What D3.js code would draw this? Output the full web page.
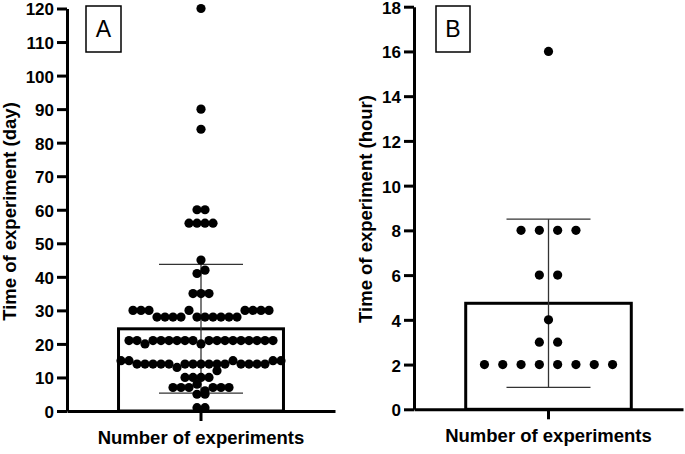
<!DOCTYPE html>
<html><head><meta charset="utf-8">
<script src="https://cdn.jsdelivr.net/npm/d3@7"></script>
<style>
body{margin:0;background:#fff}
svg{display:block}
</style>
</head><body>
<svg id="chart" width="685" height="454"></svg>
<script>
// ---------- data ----------
const category = ["Number of experiments"];
const ticksA = [0,10,20,30,40,50,60,70,80,90,100,110,120];
const ticksB = [0,2,4,6,8,10,12,14,16,18];
// Panel A values (days), grouped in the rows of the dot plot, top to bottom
const rowsA = [
  [120],
  [90],
  [84],
  [60,60],
  [56,56,56,56],
  [45],
  [41,42],
  [35,35,35],
  [30,30,30,28,28,28,28,30,28,28,28,28,28,28,30,30,30,30],
  [21,21,20,21,21,21,21,21,21,20,21,21,21,21,21,21,21,21,21],
  [15,15,14,14,14,14,14,13,14,14,14,14,14,14,15,14,14,14,14,15,15],
  [10,10,10,10,12],
  [7,7,7,8,6,7,7,7],
  [5,5],
  [1,1]
];
// Panel B values (hours)
const rowsB = [
  [16],
  [8,8,8,8],
  [6,6],
  [4],
  [3,3],
  [2,2,2,2,2,2,2,2]
];
const meanA = 24.5, sdA = 19.2;
const meanB = 4.74, sdB = 3.76;
const panelLabels = ["A","B"];
const yTitles = ["Time of experiment (day)","Time of experiment (hour)"];

// ---------- layout ----------
const FONT = '"Liberation Sans", Arial, Helvetica, sans-serif';
const panels = [
  {rows: rowsA, ticks: ticksA, max: 120, mean: meanA, sd: sdA, label: panelLabels[0], title: yTitles[0],
   left: 67, right: 335, bottom: 411, top: 8.5, step: 8.0, r: 4.6,
   box: {x: 86, y: 6, w: 35, h: 46}, titleX: 15.5, titleY: 211.5},
  {rows: rowsB, ticks: ticksB, max: 18, mean: meanB, sd: sdB, label: panelLabels[1], title: yTitles[1],
   left: 414, right: 683, bottom: 409.3, top: 6.7, step: 18.3, r: 4.6,
   box: {x: 436, y: 6, w: 34, h: 46}, titleX: 371.5, titleY: 209}
];

const svg = d3.select("#chart");

panels.forEach(p => {
  const g = svg.append("g");
  const y = d3.scaleLinear().domain([0, p.max]).range([p.bottom, p.top]);
  const x = d3.scaleBand().domain(category).range([p.left, p.right]).paddingInner(0.238).paddingOuter(0.238);
  const cx = x(category[0]) + x.bandwidth() / 2;

  // bar
  g.append("rect")
    .attr("x", x(category[0])).attr("width", x.bandwidth())
    .attr("y", y(p.mean)).attr("height", y(0) - y(p.mean))
    .attr("fill", "#fff").attr("stroke", "#000").attr("stroke-width", 3);

  // error bar
  const capW = 84;
  const eb = g.append("g").attr("stroke", "#333").attr("stroke-width", 1.3);
  eb.append("line").attr("x1", cx).attr("x2", cx).attr("y1", y(p.mean - p.sd)).attr("y2", y(p.mean + p.sd));
  [p.mean - p.sd, p.mean + p.sd].forEach(v => {
    eb.append("line").attr("x1", cx - capW/2).attr("x2", cx + capW/2).attr("y1", y(v)).attr("y2", y(v));
  });

  // dots
  const pts = [];
  p.rows.forEach(row => {
    const n = row.length;
    row.forEach((v, i) => pts.push({v, dx: (i - (n - 1) / 2) * p.step}));
  });
  g.append("g").selectAll("circle").data(pts).join("circle")
    .attr("cx", d => cx + d.dx).attr("cy", d => y(d.v)).attr("r", p.r).attr("fill", "#000");

  // y axis
  const ya = g.append("g").attr("transform", `translate(${p.left},0)`)
    .call(d3.axisLeft(y).tickValues(p.ticks).tickSize(10).tickSizeOuter(0).tickPadding(3));
  ya.select(".domain").attr("stroke-width", 3);
  ya.selectAll(".tick line").attr("stroke-width", 3);
  ya.selectAll(".tick text").attr("font-family", FONT).attr("font-size", 17).attr("font-weight", "bold")
    .attr("fill", "#000").attr("dy", "0.38em");

  // x axis
  const xa = g.append("g").attr("transform", `translate(0,${p.bottom})`)
    .call(d3.axisBottom(x).tickSize(10).tickSizeOuter(0).tickPadding(10));
  xa.select(".domain").attr("stroke-width", 3);
  xa.selectAll(".tick line").attr("stroke-width", 3);
  xa.selectAll(".tick text").attr("font-family", FONT).attr("font-size", 18.5).attr("font-weight", "bold").attr("fill", "#000");

  // y title
  g.append("text")
    .attr("transform", `translate(${p.titleX},${p.titleY}) rotate(-90)`)
    .attr("text-anchor", "middle")
    .attr("font-family", FONT).attr("font-size", 18.5).attr("font-weight", "bold")
    .text(p.title);

  // panel label box
  g.append("rect").attr("x", p.box.x).attr("y", p.box.y).attr("width", p.box.w).attr("height", p.box.h)
    .attr("fill", "#fff").attr("stroke", "#000").attr("stroke-width", 1.5);
  g.append("text").attr("x", p.box.x + p.box.w/2).attr("y", p.box.y + p.box.h/2 + 8)
    .attr("text-anchor", "middle").attr("font-family", FONT).attr("font-size", 23)
    .text(p.label);
});
</script>
</body></html>
